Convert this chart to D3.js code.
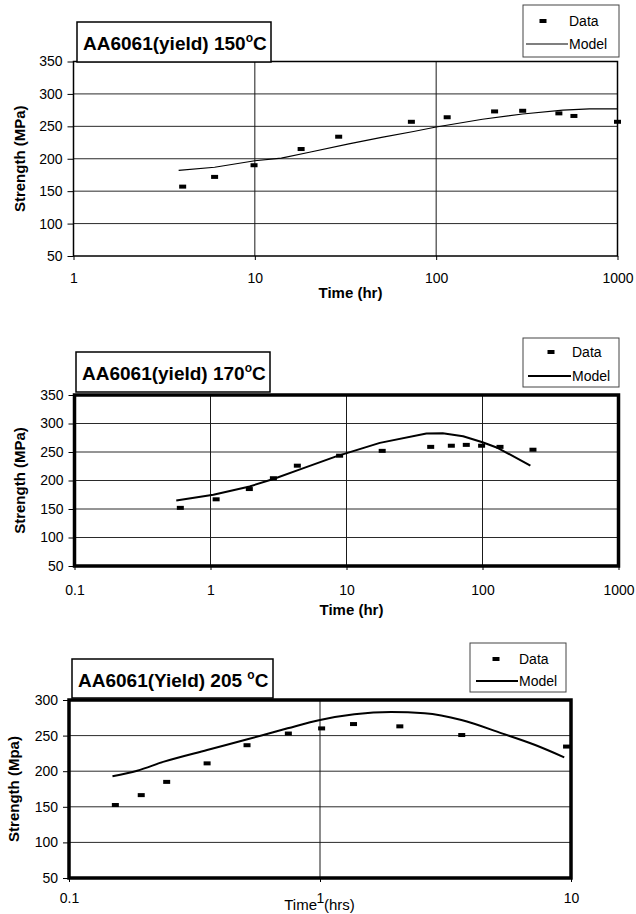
<!DOCTYPE html>
<html>
<head>
<meta charset="utf-8">
<script src="https://cdn.jsdelivr.net/npm/d3@7"></script>
<style>
  html, body { margin: 0; padding: 0; background: #fff; }
  svg { display: block; }
</style>
</head>
<body>
<svg id="chart" width="636" height="914"></svg>
<script>
// ---- AA6061 yield strength vs. ageing time ----

// 150 °C
const time150 = [4, 6, 9.9, 18, 29, 73, 115, 210, 300, 475, 575, 1000];
const strength150 = [157, 172, 190, 215, 234, 257, 264, 273, 274, 270, 266, 257];
const modelTime150 = [3.8, 6, 10, 14, 20, 33, 50, 75, 100, 180, 300, 500, 700, 1000];
const modelStrength150 = [182, 187, 197, 201, 210, 223, 233, 242, 249, 261, 269, 275, 277, 277];

// 170 °C
const time170 = [0.6, 1.1, 1.93, 2.9, 4.35, 8.9, 18.3, 41.6, 59, 76, 98.5, 134.5, 235];
const strength170 = [152, 167, 185, 204, 226, 243.5, 252, 259, 261, 262.5, 261, 259, 254];
const modelTime170 = [0.56, 1.05, 1.94, 2.9, 4.5, 8.4, 17.6, 38.7, 51, 72, 100, 130, 225];
const modelStrength170 = [165, 175, 189.6, 202.6, 219, 242.4, 266, 282.4, 283, 277.6, 267, 257, 226];

// 205 °C
const time205 = [0.153, 0.194, 0.245, 0.355, 0.512, 0.748, 1.015, 1.36, 2.08, 3.67, 9.6];
const strength205 = [152.5, 166.4, 185, 211, 236.5, 252.9, 260.1, 266.2, 263, 250.8, 234.6];
const modelTime205 = [0.149, 0.187, 0.239, 0.355, 0.514, 0.743, 1.0, 1.37, 1.92, 2.61, 3.66, 5.3, 7.2, 9.4];
const modelStrength205 = [193, 200.7, 213.4, 229.8, 244.8, 260.2, 271.9, 279.9, 283.1, 281.3, 271.9, 253.2, 236.8, 219.5];

// axis ticks
const xTicks150 = [1, 10, 100, 1000];
const xTicks170 = [0.1, 1, 10, 100, 1000];
const xTicks205 = [0.1, 1, 10];
const yTicks150 = [50, 100, 150, 200, 250, 300, 350];
const yTicks170 = [50, 100, 150, 200, 250, 300, 350];
const yTicks205 = [50, 100, 150, 200, 250, 300];

const FONT = "'Liberation Sans', Arial, Helvetica, sans-serif";
const svg = d3.select("#chart");

const panels = [
  {
    title: ["AA6061(yield) 150", "o", "C"],
    yLabel: "Strength (MPa)",
    xLabel: "Time (hr)",
    points: time150.map((t, i) => [t, strength150[i]]),
    model: modelTime150.map((t, i) => [t, modelStrength150[i]]),
    xTicks: xTicks150, yTicks: yTicks150,
    xDomain: [1, 1000], yDomain: [50, 350],
    plot: { x0: 73.5, x1: 617.5, y0: 61.5, y1: 256 },
    frame: 1.5, modelWidth: 1.1, curve: d3.curveLinear,
    titleBox: { x: 77, y: 22, w: 194, h: 40 },
    legend: { x: 523, y: 5, w: 96, h: 52, mx: 543, my: 21, tx: 569, ly: 44, l0: 526, l1: 568 },
    tickPad: 13, xLabelY: 298, yLabelX: 20, yLabelWeight: "bold"
  },
  {
    title: ["AA6061(yield) 170", "o", "C"],
    yLabel: "Strength (MPa)",
    xLabel: "Time (hr)",
    points: time170.map((t, i) => [t, strength170[i]]),
    model: modelTime170.map((t, i) => [t, modelStrength170[i]]),
    xTicks: xTicks170, yTicks: yTicks170,
    xDomain: [0.1, 1000], yDomain: [50, 350],
    plot: { x0: 74.5, x1: 618.5, y0: 395, y1: 566 },
    frame: 3.5, modelWidth: 2, curve: d3.curveLinear,
    titleBox: { x: 76, y: 352, w: 194, h: 40 },
    legend: { x: 523, y: 338, w: 96, h: 49, mx: 551, my: 352, tx: 572, ly: 376, l0: 528, l1: 571 },
    tickPad: 15, xLabelY: 615, yLabelX: 20, yLabelWeight: "bold"
  },
  {
    title: ["AA6061(Yield) 205 ", "o", "C"],
    yLabel: "Strength (Mpa)",
    xLabel: null,
    points: time205.map((t, i) => [t, strength205[i]]),
    model: modelTime205.map((t, i) => [t, modelStrength205[i]]),
    xTicks: xTicks205, yTicks: yTicks205,
    xDomain: [0.1, 10], yDomain: [50, 300],
    plot: { x0: 69, x1: 571, y0: 700, y1: 878 },
    frame: 3.5, modelWidth: 2, curve: d3.curveMonotoneX,
    titleBox: { x: 72, y: 659, w: 201, h: 39 },
    legend: { x: 470, y: 643, w: 96, h: 49, mx: 496, my: 659, tx: 519, ly: 681, l0: 476, l1: 518 },
    tickPad: 11, xLabelY: 910, yLabelX: 14, yLabelWeight: "bold"
  }
];

const fmtTick = d => (d < 1 ? d3.format(".1f")(d) : d3.format("d")(d));

panels.forEach(p => {
  const g = svg.append("g").attr("font-family", FONT);
  const { x0, x1, y0, y1 } = p.plot;
  const x = d3.scaleLog().domain(p.xDomain).range([x0, x1]);
  const y = d3.scaleLinear().domain(p.yDomain).range([y1, y0]);

  // horizontal grid lines
  g.append("g").selectAll("line")
    .data(p.yTicks.filter(v => v > p.yDomain[0] && v < p.yDomain[1]))
    .join("line")
    .attr("x1", x0).attr("x2", x1)
    .attr("y1", d => y(d)).attr("y2", d => y(d))
    .attr("stroke", "#2a2a2a").attr("stroke-width", 1);

  // vertical grid lines at each decade
  g.append("g").selectAll("line")
    .data(p.xTicks.filter(v => v > p.xDomain[0] && v < p.xDomain[1]))
    .join("line")
    .attr("x1", d => x(d)).attr("x2", d => x(d))
    .attr("y1", y0).attr("y2", y1)
    .attr("stroke", "#1a1a1a").attr("stroke-width", 1);

  // y axis
  g.append("g")
    .attr("transform", `translate(${x0},0)`)
    .call(d3.axisLeft(y).tickValues(p.yTicks).tickSize(6).tickPadding(5).tickFormat(d3.format("d")))
    .call(a => a.select(".domain").remove())
    .call(a => a.attr("font-family", FONT).attr("font-size", 14))
    .call(a => a.selectAll("line").attr("stroke", "#000"))
    .call(a => a.selectAll("text").attr("fill", "#000"));

  // x axis
  g.append("g")
    .attr("transform", `translate(0,${y1})`)
    .call(d3.axisBottom(x).tickValues(p.xTicks).tickSize(4).tickPadding(p.tickPad).tickFormat(fmtTick))
    .call(a => a.select(".domain").remove())
    .call(a => a.attr("font-family", FONT).attr("font-size", 14))
    .call(a => a.selectAll("line").attr("stroke", "#000"))
    .call(a => a.selectAll("text").attr("fill", "#000"));

  // plot frame
  g.append("rect")
    .attr("x", x0).attr("y", y0)
    .attr("width", x1 - x0).attr("height", y1 - y0)
    .attr("fill", "none").attr("stroke", "#000").attr("stroke-width", p.frame);

  // model curve
  const line = d3.line().x(d => x(d[0])).y(d => y(d[1])).curve(p.curve);
  g.append("path")
    .datum(p.model)
    .attr("d", line)
    .attr("fill", "none").attr("stroke", "#000")
    .attr("stroke-width", p.modelWidth).attr("stroke-linejoin", "round");

  // measured data markers
  g.append("g").selectAll("rect")
    .data(p.points)
    .join("rect")
    .attr("x", d => x(d[0]) - 3.5).attr("y", d => y(d[1]) - 2)
    .attr("width", 7).attr("height", 4)
    .attr("fill", "#000");

  // title box
  const tb = p.titleBox;
  g.append("rect")
    .attr("x", tb.x).attr("y", tb.y).attr("width", tb.w).attr("height", tb.h)
    .attr("fill", "#fff").attr("stroke", "#000").attr("stroke-width", 1.5);
  const tt = g.append("text")
    .attr("x", tb.x + 6).attr("y", tb.y + 28)
    .attr("font-size", 19).attr("font-weight", "bold").attr("fill", "#000");
  tt.append("tspan").text(p.title[0]);
  tt.append("tspan").attr("dy", -8).attr("font-size", 12).text(p.title[1]);
  tt.append("tspan").attr("dy", 8).text(p.title[2]);

  // legend
  const lg = p.legend;
  g.append("rect")
    .attr("x", lg.x).attr("y", lg.y).attr("width", lg.w).attr("height", lg.h)
    .attr("fill", "#fff").attr("stroke", "#444").attr("stroke-width", 1);
  g.append("rect")
    .attr("x", lg.mx - 3.5).attr("y", lg.my - 2).attr("width", 7).attr("height", 4)
    .attr("fill", "#000");
  g.append("text")
    .attr("x", lg.tx).attr("y", lg.my).attr("dy", "0.35em")
    .attr("font-size", 14).attr("fill", "#000").text("Data");
  g.append("line")
    .attr("x1", lg.l0).attr("x2", lg.l1).attr("y1", lg.ly).attr("y2", lg.ly)
    .attr("stroke", "#000").attr("stroke-width", p.modelWidth);
  g.append("text")
    .attr("x", lg.l1 + 1).attr("y", lg.ly).attr("dy", "0.35em")
    .attr("font-size", 14).attr("fill", "#000").text("Model");

  // axis titles
  const yc = (y0 + y1) / 2;
  g.append("text")
    .attr("transform", `translate(${p.yLabelX},${yc}) rotate(-90)`)
    .attr("text-anchor", "middle").attr("dy", "0.35em")
    .attr("font-size", 15).attr("font-weight", p.yLabelWeight).attr("fill", "#000")
    .text(p.yLabel);

  if (p.xLabel) {
    g.append("text")
      .attr("x", (x0 + x1) / 2 + 5).attr("y", p.xLabelY)
      .attr("text-anchor", "middle")
      .attr("font-size", 15).attr("font-weight", "bold").attr("fill", "#000")
      .text(p.xLabel);
  } else {
    // "Time" and "(hrs)" sit either side of the 1-hour tick label
    g.append("text")
      .attr("x", x(1) - 3).attr("y", p.xLabelY)
      .attr("text-anchor", "end").attr("font-size", 15).attr("fill", "#000")
      .text("Time");
    g.append("text")
      .attr("x", x(1) + 4).attr("y", p.xLabelY)
      .attr("text-anchor", "start").attr("font-size", 15).attr("fill", "#000")
      .text("(hrs)");
  }
});
</script>
</body>
</html>
